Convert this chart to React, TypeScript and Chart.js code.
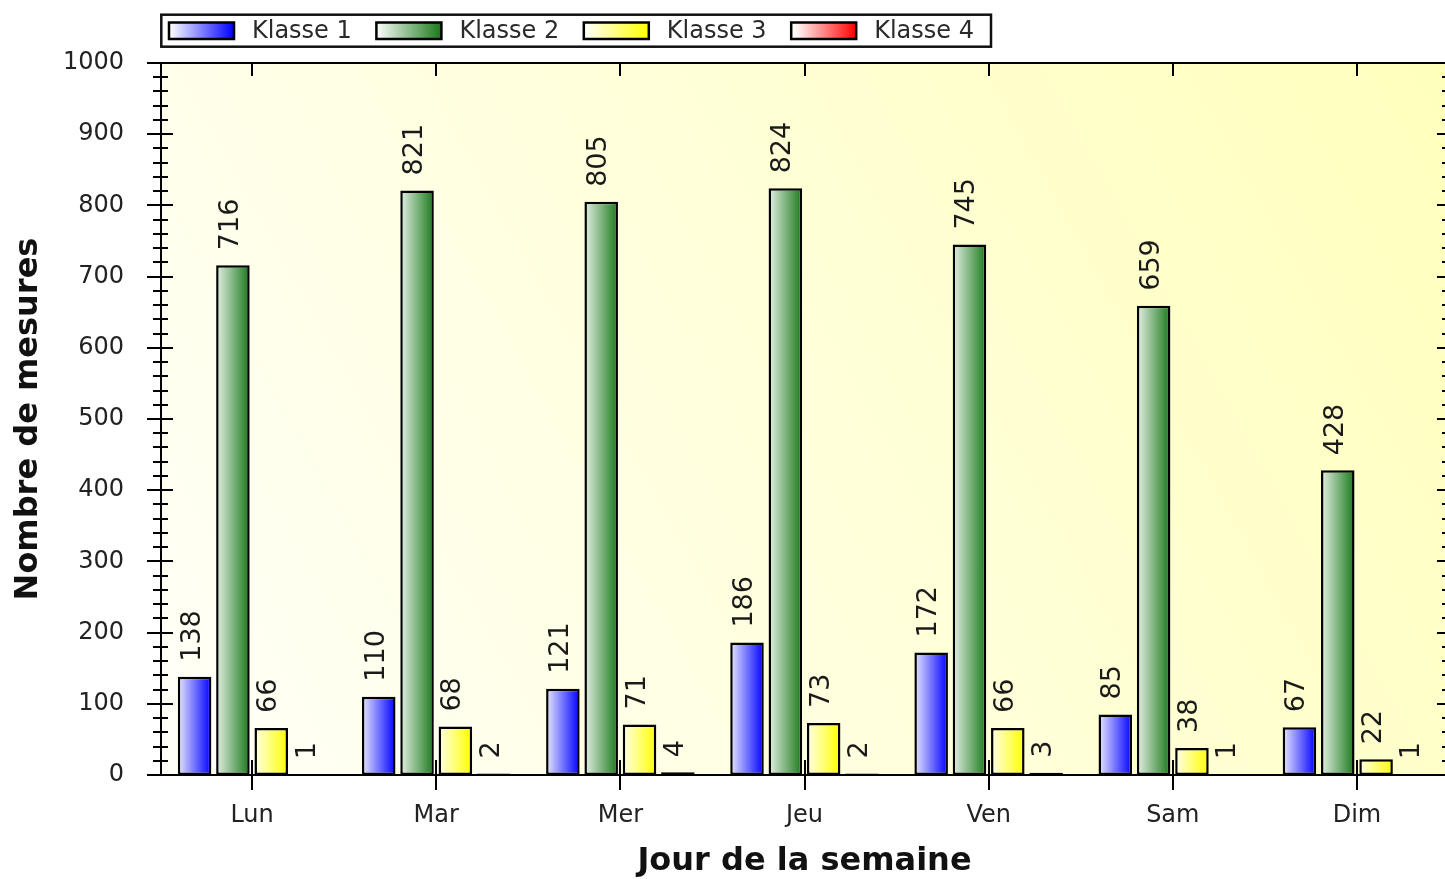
import React, { useEffect, useRef } from 'react';
import { Chart, registerables } from 'chart.js';

Chart.register(...registerables);

const categories = ['Lun', 'Mar', 'Mer', 'Jeu', 'Ven', 'Sam', 'Dim'];
const seriesNames = ['Klasse 1', 'Klasse 2', 'Klasse 3', 'Klasse 4'];
const klasse1 = [138, 110, 121, 186, 172, 85, 67];
const klasse2 = [716, 821, 805, 824, 745, 659, 428];
const klasse3 = [66, 68, 71, 73, 66, 38, 22];
const klasse4 = [1, 2, 4, 2, 3, 1, 1];
const yMin = 0;
const yMax = 1000;
const yStep = 100;
const yMinorStep = 20;
const xTitle = 'Jour de la semaine';
const yTitle = 'Nombre de mesures';

const gradientColors: [string, string][] = [
  ['#e8e8ff', '#0000ff'],
  ['#e6f0e6', '#1a7a1a'],
  ['#ffffe8', '#ffff00'],
  ['#fff2f2', '#ff0000'],
];

const FONT = "'DejaVu Sans', Verdana, sans-serif";

const bgPlugin = {
  id: 'bgPlugin',
  beforeDraw(chart: any) {
    const { ctx, chartArea } = chart;
    ctx.save();
    ctx.fillStyle = '#ffffff';
    ctx.fillRect(0, 0, chart.width, chart.height);
    const { left, right, top, bottom } = chartArea;
    const g = ctx.createLinearGradient(left, bottom, right, top);
    g.addColorStop(0, '#fffff8');
    g.addColorStop(1, '#ffffbc');
    ctx.fillStyle = g;
    ctx.fillRect(left, top, right - left, bottom - top);
    ctx.restore();
  },
};

const barGradientPlugin = {
  id: 'barGradientPlugin',
  beforeDatasetsDraw(chart: any) {
    const { ctx } = chart;
    chart.data.datasets.forEach((ds: any, i: number) => {
      const meta = chart.getDatasetMeta(i);
      const [c0, c1] = gradientColors[i % gradientColors.length];
      meta.data.forEach((el: any) => {
        const w = el.width || 1;
        const g = ctx.createLinearGradient(el.x - w / 2, 0, el.x + w / 2, 0);
        g.addColorStop(0, c0);
        g.addColorStop(1, c1);
        el.options = Object.assign({}, el.options, { backgroundColor: g });
      });
    });
  },
};

const axesPlugin = {
  id: 'axesPlugin',
  afterDatasetsDraw(chart: any) {
    const { ctx, chartArea, scales } = chart;
    const { left, right, top, bottom } = chartArea;
    const xs = scales.x;
    const ys = scales.y;
    ctx.save();
    ctx.strokeStyle = '#000';
    ctx.lineWidth = 2;
    ctx.beginPath();
    ctx.moveTo(left - 13, top);
    ctx.lineTo(right + 2, top);
    ctx.moveTo(left - 13, bottom);
    ctx.lineTo(right + 2, bottom);
    ctx.moveTo(left + 1, top);
    ctx.lineTo(left + 1, bottom);
    ctx.moveTo(right, top);
    ctx.lineTo(right, bottom);
    for (let v = yMin; v <= yMax; v += yMinorStep) {
      const py = Math.round(ys.getPixelForValue(v));
      const major = v % yStep === 0;
      if (major) {
        ctx.moveTo(left - 13, py);
        ctx.lineTo(left + 13, py);
        ctx.moveTo(right - 12, py);
        ctx.lineTo(right + 12, py);
      } else {
        ctx.moveTo(left - 7, py);
        ctx.lineTo(left + 8, py);
        ctx.moveTo(right - 7, py);
        ctx.lineTo(right + 7, py);
      }
    }
    categories.forEach((_, i) => {
      const px = Math.round(xs.getPixelForValue(i));
      ctx.moveTo(px, bottom - 15);
      ctx.lineTo(px, bottom + 15);
      ctx.moveTo(px, top);
      ctx.lineTo(px, top + 13);
    });
    ctx.stroke();
    ctx.restore();
  },
};

const valueLabelPlugin = {
  id: 'valueLabelPlugin',
  afterDatasetsDraw(chart: any) {
    const { ctx } = chart;
    ctx.save();
    ctx.font = `27px ${FONT}`;
    ctx.fillStyle = '#1a1a1a';
    ctx.textAlign = 'left';
    ctx.textBaseline = 'middle';
    chart.data.datasets.forEach((ds: any, i: number) => {
      const meta = chart.getDatasetMeta(i);
      meta.data.forEach((el: any, j: number) => {
        const val = ds.data[j];
        ctx.save();
        ctx.translate(el.x - 2, el.y - 15);
        ctx.rotate(-Math.PI / 2);
        ctx.fillText(String(val), 0, 0);
        ctx.restore();
      });
    });
    ctx.restore();
  },
};

const legendPlugin = {
  id: 'customLegend',
  afterDraw(chart: any) {
    const { ctx } = chart;
    ctx.save();
    ctx.fillStyle = '#ffffff';
    ctx.fillRect(161, 15, 830, 31);
    ctx.strokeStyle = '#111';
    ctx.lineWidth = 2.5;
    ctx.strokeRect(161.3, 14.7, 829.7, 32);
    ctx.font = `24px ${FONT}`;
    ctx.textAlign = 'left';
    ctx.textBaseline = 'middle';
    chart.data.datasets.forEach((ds: any, i: number) => {
      const x0 = 169 + i * 207.4;
      const [c0, c1] = gradientColors[i % gradientColors.length];
      const g = ctx.createLinearGradient(x0, 0, x0 + 65, 0);
      g.addColorStop(0, '#ffffff');
      g.addColorStop(0.1, c0);
      g.addColorStop(1, c1);
      ctx.fillStyle = g;
      ctx.fillRect(x0, 22.5, 65, 16.5);
      ctx.strokeStyle = '#000';
      ctx.lineWidth = 2.5;
      ctx.strokeRect(x0, 22.5, 65, 16.5);
      ctx.fillStyle = '#2a2a2a';
      ctx.fillText(ds.label, x0 + 83, 31.5);
    });
    ctx.restore();
  },
};

export default function App() {
  const canvasRef = useRef<HTMLCanvasElement | null>(null);

  useEffect(() => {
    if (!canvasRef.current) return;
    Chart.defaults.font.family = FONT;
    const seriesData = [klasse1, klasse2, klasse3, klasse4];
    const chart = new Chart(canvasRef.current, {
      type: 'bar',
      data: {
        labels: categories,
        datasets: seriesData.map((d, i) => ({
          label: seriesNames[i],
          data: d,
          backgroundColor: gradientColors[i][1],
          borderColor: '#000',
          borderWidth: 2.5,
          borderSkipped: false,
          categoryPercentage: 0.8325,
          barPercentage: 0.875,
        })),
      },
      options: {
        animation: false,
        responsive: true,
        maintainAspectRatio: false,
        layout: { padding: { top: 63, right: 4, bottom: 0, left: 0 } },
        plugins: {
          legend: { display: false },
          tooltip: { enabled: false },
        },
        scales: {
          x: {
            type: 'category',
            offset: true,
            grid: { display: false },
            border: { display: false },
            ticks: { font: { size: 24, family: FONT }, color: '#222', padding: 18 },
            title: {
              display: true,
              text: xTitle,
              font: { size: 32, weight: 'bold', family: FONT, lineHeight: 1.1 },
              color: '#111',
              padding: { top: 0, bottom: 0 },
            },
            afterFit: (s: any) => {
              s.height = 104;
            },
          },
          y: {
            min: yMin,
            max: yMax,
            grid: { display: false },
            border: { display: false },
            ticks: {
              stepSize: yStep,
              font: { size: 24, family: FONT },
              color: '#222',
              padding: 28,
              callback: (v: any) => String(v),
            },
            title: {
              display: true,
              text: yTitle,
              font: { size: 32, weight: 'bold', family: FONT },
              color: '#111',
              padding: { top: 9, bottom: 0 },
            },
            afterFit: (s: any) => {
              s.width = 160;
            },
          },
        },
      } as any,
      plugins: [bgPlugin, barGradientPlugin, axesPlugin, valueLabelPlugin, legendPlugin],
    });
    return () => chart.destroy();
  }, []);

  return (
    <div style={{ position: 'absolute', left: 0, top: 0, width: 1445, height: 879, overflow: 'hidden', background: '#fff' }}>
      <div style={{ position: 'relative', width: 1453, height: 879 }}>
        <canvas ref={canvasRef} />
      </div>
    </div>
  );
}
